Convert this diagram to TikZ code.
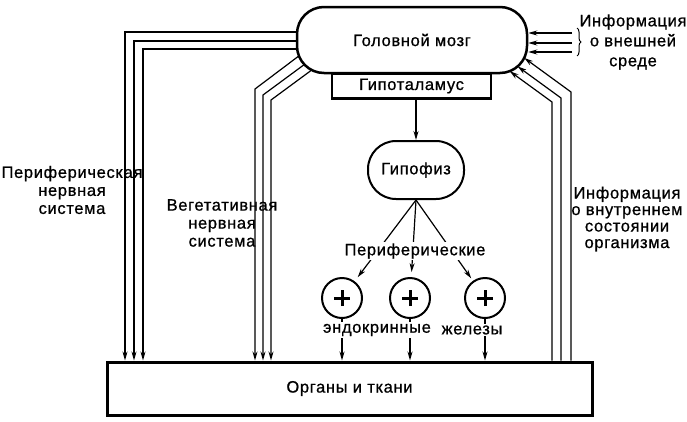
\documentclass[tikz,border=0pt]{standalone}
\usepackage{fontspec}
\setmainfont{Liberation Sans}[LetterSpace=4, FakeBold=0.8]
\usetikzlibrary{arrows.meta,calc,backgrounds,decorations.pathreplacing}
\begin{document}
\begin{tikzpicture}[x=1pt,y=-1pt,
  every node/.style={font=\fontsize{16.5}{18}\selectfont},
  box/.style={draw, line width=2.2pt, fill=white, inner sep=0pt},
  wire/.style={line width=1.2pt},
  arr/.style={wire, -{Stealth[length=9pt,width=5pt]}},
  lbl/.style={fill=white, inner sep=1.5pt},
  ml/.style={align=center, inner sep=0pt},
  gland/.style={draw, circle, line width=2pt, minimum size=40pt, inner sep=0pt},
  plus/.style={line width=3pt},
]
\useasboundingbox (0,0) rectangle (687,421);

% main boxes
\node[draw, line width=3pt, minimum width=485pt, minimum height=53pt, inner sep=0pt] (organs) at (349.5,388.5) {Органы и ткани};
\node[box, minimum width=159pt, minimum height=25pt] (hyp) at (411.5,86) {Гипоталамус};
\node[box, line width=2.5pt, rounded corners=27pt, minimum width=230pt, minimum height=66pt] (brain) at (412,40) {Головной мозг};
\node[box, line width=2pt, rounded corners=28pt, minimum width=96pt, minimum height=58pt] (gip) at (416,170) {Гипофиз};

% glands
\node[gland] (c1) at (342,298) {};
\node[gland] (c2) at (410,298) {};
\node[gland] (c3) at (485,298) {};
\foreach \c in {c1,c2,c3}{
  \draw[plus] ([xshift=-8pt]\c.center) -- ([xshift=8pt]\c.center);
  \draw[plus] ([yshift=-8pt]\c.center) -- ([yshift=8pt]\c.center);
}

% labels on lines
\node[lbl] (per) at (415,251) {Периферические};
\node[lbl] (endo) at (377,330) {эндокринные};
\node[lbl] (zhel) at (472,330) {железы};

% side labels
\node[ml] (lperi) at (72,190) {Периферическая\\нервная\\система};
\node[ml] (lveg) at (222,223) {Вегетативная\\нервная\\система};
\node[ml, font=\fontsize{16.5}{16.5}\selectfont] (lint) at (627,219) {Информация\\о внутреннем\\состоянии\\организма};
\node[ml, font=\fontsize{16.5}{20}\selectfont] (lext) at (633,42) {Информация\\о внешней\\среде};

% coordinates
\coordinate (p1) at (125,32);
\coordinate (p2) at (134,41);
\coordinate (p3) at (143,49);
\coordinate (v1) at (255,89);
\coordinate (v2) at (263,95);
\coordinate (v3) at (271,100);
\coordinate (i1) at (552,102);
\coordinate (i2) at (561,98);
\coordinate (i3) at (571,92);
\coordinate (i1t) at (509.7,71.2);
\coordinate (i2t) at (517.6,66.4);
\coordinate (i3t) at (524.2,57.9);
\coordinate (e1) at (572,33);
\coordinate (e2) at (572,43);
\coordinate (e3) at (572,52);

\begin{scope}[on background layer]
  % peripheral nervous system
  \draw[arr] ([xshift=8pt]brain.west |- p1) -- (p1) -- (p1 |- organs.north);
  \draw[arr] ([xshift=8pt]brain.west |- p2) -- (p2) -- (p2 |- organs.north);
  \draw[arr] ([xshift=8pt]brain.west |- p3) -- (p3) -- (p3 |- organs.north);
  % vegetative nervous system
  \draw[arr] ($(brain.south west)+(8,-22)$) -- (v1) -- (v1 |- organs.north);
  \draw[arr] ($(brain.south west)+(13,-13)$) -- (v2) -- (v2 |- organs.north);
  \draw[arr] ($(brain.south west)+(17,-5)$) -- (v3) -- (v3 |- organs.north);
  % hypophysis to glands
  \draw[arr, shorten >=5pt] (gip.south) -- (c1);
  \draw[arr, shorten >=5pt] (gip.south) -- (c2);
  \draw[arr, shorten >=3pt] (gip.south) -- (c3);
  % glands to organs
  \draw[arr] (c1.south) -- (c1.south |- organs.north);
  \draw[arr] (c2.south) -- (c2.south |- organs.north);
  \draw[arr] (c3.south) -- (c3.south |- organs.north);
\end{scope}

% hypothalamus to hypophysis
\draw[arr] (gip.north |- hyp.south) -- (gip.north);

% internal information
\draw[arr] (i1 |- organs.north) -- (i1) -- (i1t);
\draw[arr] (i2 |- organs.north) -- (i2) -- (i2t);
\draw[arr] (i3 |- organs.north) -- (i3) -- (i3t);

% external information
\draw[arr] (e1) -- (e1 -| brain.east);
\draw[arr] (e2) -- (e2 -| brain.east);
\draw[arr] (e3) -- (e3 -| brain.east);
\draw[line width=1pt, decorate, decoration={brace, amplitude=4pt}] (577,28) -- (577,56);
\end{tikzpicture}
\end{document}
